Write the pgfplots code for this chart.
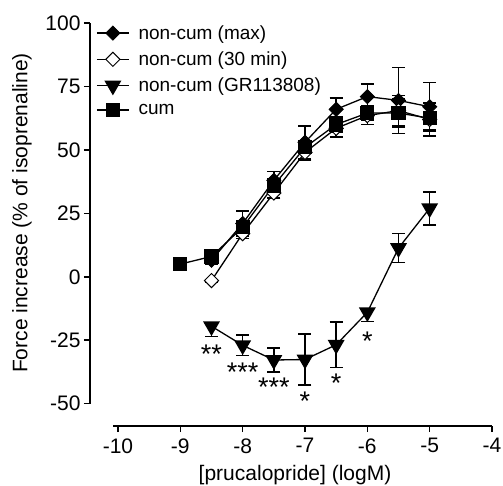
\documentclass[border=0pt]{standalone}
\usepackage{fontspec}
\setmainfont{Liberation Sans}
\usepackage{pgfplots}
\pgfplotsset{compat=1.18}
\begin{document}
\begin{tikzpicture}[x=1pt,y=1pt]
\path[use as bounding box] (0,0) rectangle (503,485);
\begin{axis}[
  at={(90pt,59pt)}, anchor=south west,
  scale only axis, width=402pt, height=403pt,
  xmin=-10.449, xmax=-4, ymin=-58.8, ymax=100,
  clip=false,
  axis lines*=left, axis line style={draw=none},
  tick align=outside, major tick length=6pt,
  tick style={black, line width=1.5pt},
  xtick={-10,-9,-8,-7,-6,-5,-4},
  xticklabels={-10,-9,-8,-7,-6,-5,-4},
  ytick={-50,-25,0,25,50,75,100},
  yticklabels={-50,-25,0,25,50,75,100},
  ticklabel style={font=\fontsize{21}{25}\selectfont},
  xticklabel style={yshift=-3pt},
  xlabel={[prucalopride] (logM)},
  ylabel={Force increase (\% of isoprenaline)},
  label style={font=\fontsize{21}{25}\selectfont},
  xlabel style={at={(axis description cs:0.51,-0.1216)}, anchor=center},
  ylabel style={at={(axis description cs:-0.169,0.5285)}, anchor=center},
  legend style={at={(axis description cs:0.015,0.997)}, anchor=north west,
    draw=none, fill=none, inner sep=0pt, row sep=9pt,
    font=\fontsize{19}{22}\selectfont,
    nodes={inner sep=1pt},
    /tikz/every odd column/.append style={column sep=8pt}},
  legend cell align=left,
  legend image code/.code={\draw[mark repeat=2,mark phase=2,#1] plot coordinates {(0pt,0pt) (16pt,0pt) (32pt,0pt)};},
  every axis plot/.append style={black, line width=1.3pt},
  error bars/y dir=both, error bars/y explicit,
  error bars/error bar style={line width=1.5pt, solid},
  error bars/error mark options={mark size=6.5pt, line width=1.5pt, rotate=90},
]
% non-cum (max)
\addplot[mark=square*, mark size=5pt, mark options={rotate=45, fill=black, solid, line width=0.8pt}]
 coordinates {
 (-8.5,6.5) +- (0,1.5)
 (-8,21) +- (0,5)
 (-7.5,38) +- (0,3.5)
 (-7,53) +- (0,6.5)
 (-6.5,66) +- (0,4.5)
 (-6,71) +- (0,5)
 (-5.5,69.5) +- (0,13)
 (-5,67) +- (0,9.5)
 };
\addlegendentry{non-cum (max)}
% non-cum (30 min)
\addplot[mark=square*, mark size=5pt, mark options={rotate=45, fill=white, solid, line width=1pt}]
 coordinates {
 (-8.5,-1.5) +- (0,0.5)
 (-8,17) +- (0,2)
 (-7.5,33) +- (0,2)
 (-7,49) +- (0,3)
 (-6.5,58.5) +- (0,3.5)
 (-6,63.5) +- (0,3.5)
 (-5.5,65.5) +- (0,6)
 (-5,62) +- (0,6.5)
 };
\addlegendentry{non-cum (30 min)}
% non-cum (GR113808)
\addplot[mark=triangle*, mark size=8.5pt, mark options={rotate=180, fill=black, solid}]
 coordinates {
 (-8.5,-19.5) += (0,1) -= (0,4)
 (-8,-27) +- (0,4)
 (-7.5,-32.8) +- (0,4.7)
 (-7,-32.6) +- (0,10)
 (-6.5,-26.8) +- (0,9)
 (-6,-14) += (0,1) -= (0,3.7)
 (-5.5,11.3) +- (0,5.7)
 (-5,27) +- (0,6.5)
 };
\addlegendentry{non-cum (GR113808)}
% cum
\addplot[mark=square*, mark size=6.5pt, mark options={fill=black, solid}]
 coordinates {
 (-9,5) +- (0,1)
 (-8.5,8) +- (0,1.5)
 (-8,19.5) +- (0,2)
 (-7.5,36) +- (0,2)
 (-7,51) +- (0,2.5)
 (-6.5,60) +- (0,3)
 (-6,64.5) +- (0,3)
 (-5.5,64.5) +- (0,5.5)
 (-5,62.5) +- (0,4.5)
 };
\addlegendentry{cum}
% significance marks
\begin{scope}[every node/.style={font=\fontsize{27}{30}\selectfont, inner sep=0pt, yshift=-6pt}]
\node at (axis cs:-8.5,-28) {**};
\node at (axis cs:-8,-35.1) {***};
\node at (axis cs:-7.5,-41) {***};
\node at (axis cs:-7,-46.6) {*};
\node at (axis cs:-6.5,-39.5) {*};
\node at (axis cs:-6,-22.9) {*};
\end{scope}
% detached axis lines
\draw[line width=1.5pt] (axis cs:-10.08,-58.8) -- (axis cs:-4,-58.8);
\draw[line width=1.5pt] (axis cs:-10.449,-50) -- (axis cs:-10.449,100);
\end{axis}
\end{tikzpicture}
\end{document}
